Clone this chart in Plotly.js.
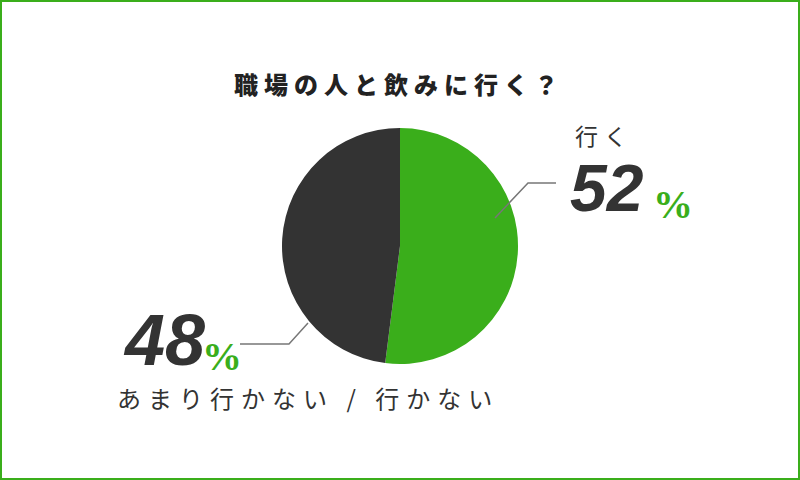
<!DOCTYPE html>
<html><head><meta charset="utf-8">
<script src="https://cdn.plot.ly/plotly-3.0.1.min.js"></script>
<style>
html,body{margin:0;padding:0;background:#fff;}
#wrap{width:800px;height:480px;box-sizing:border-box;border:2px solid #3aae1b;overflow:hidden;}
#chart{width:796px;height:476px;}
g.annotation[data-index="0"] text{letter-spacing:6px;}
g.annotation[data-index="1"] text{letter-spacing:6px;}
g.annotation[data-index="4"] text{letter-spacing:7px;}
</style></head>
<body><div id="wrap"><div id="chart"></div></div>
<script>
const chartTitle = '職場の人と飲みに行く？';
const labels = ['行く', 'あまり行かない / 行かない'];
const values = [52, 48];
const sliceColors = ['#3aae1b', '#333333'];

const W = 796, H = 476;
const px = x => (x - 2) / W;
const py = y => 1 - (y - 2) / H;

const jp = 'Noto Sans CJK JP';
const num = 'Liberation Sans';
const dark = '#333333';
const green = '#3aae1b';

const trace = {
  type: 'pie',
  labels: labels,
  values: values,
  marker: {colors: sliceColors, line: {width: 0}},
  sort: false,
  direction: 'clockwise',
  rotation: 0,
  textinfo: 'none',
  hoverinfo: 'skip',
  domain: {x: [px(282), px(518)], y: [py(364), py(128)]},
  showlegend: false
};

const ann = [
  {text: chartTitle, x: px(399), y: py(83), font: {family: jp, size: 24, color: '#222', weight: 900}, xanchor: 'center', yanchor: 'middle'},
  {text: labels[0], x: px(604), y: py(135), font: {family: jp, size: 23, color: dark}, xanchor: 'center', yanchor: 'middle'},
  {text: String(values[0]), x: px(568), y: py(188), font: {family: num, size: 66, color: dark, weight: 700, style: 'italic'}, xanchor: 'left', yanchor: 'middle'},
  {text: '%', x: px(651), y: py(204), font: {family: 'Liberation Sans Narrow', size: 40, color: green, weight: 700}, xanchor: 'left', yanchor: 'middle'},
  {text: labels[1], x: px(308), y: py(397), font: {family: jp, size: 24, color: dark}, xanchor: 'center', yanchor: 'middle'},
  {text: String(values[1]), x: px(121), y: py(340), font: {family: num, size: 72, color: dark, weight: 700, style: 'italic'}, xanchor: 'left', yanchor: 'middle'},
  {text: '%', x: px(200), y: py(356), font: {family: 'Liberation Sans Narrow', size: 40, color: green, weight: 700}, xanchor: 'left', yanchor: 'middle'}
].map(a => Object.assign({xref: 'paper', yref: 'paper', showarrow: false}, a));

const lineStyle = {color: '#777777', width: 1.5};
const path = pts => 'M ' + pts.map(p => px(p[0]) + ',' + py(p[1])).join(' L ');
const shapes = [
  {type: 'path', xref: 'paper', yref: 'paper', path: path([[495, 218], [528, 183], [556, 183]]), line: lineStyle},
  {type: 'path', xref: 'paper', yref: 'paper', path: path([[240, 344], [289, 344], [308, 323]]), line: lineStyle}
];

const layout = {
  width: W, height: H,
  margin: {l: 0, r: 0, t: 0, b: 0},
  paper_bgcolor: '#ffffff',
  plot_bgcolor: '#ffffff',
  showlegend: false,
  annotations: ann,
  shapes: shapes
};

Plotly.newPlot('chart', [trace], layout, {displayModeBar: false, staticPlot: true});
</script></body></html>
